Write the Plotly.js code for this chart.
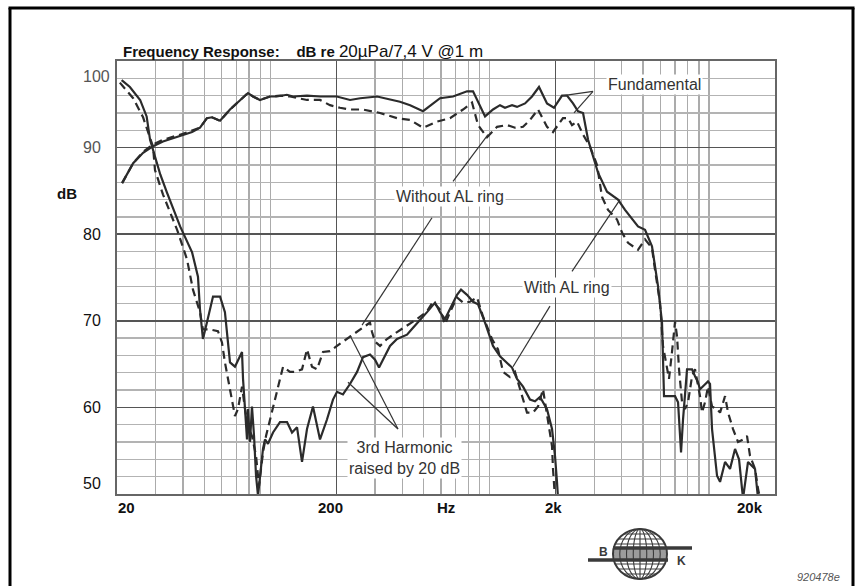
<!DOCTYPE html>
<html><head><meta charset="utf-8">
<script src="https://cdn.plot.ly/plotly-3.0.1.min.js"></script>
<style>html,body{margin:0;padding:0;background:#fff}#chart{width:855px;height:586px}</style>
</head><body><div id="chart"></div>
<script>
// ---------- data ----------
// Fundamental, with AL ring (solid)
const fundWithF = [21.1,23.7,26.3,28.9,32.4,40,44,47.8,51.4,54.2,59,65.5,72.8,79.1,83.4,89.7,99.7,107,119,127,147,169,201,231,257,307,390,434,497,594,681,789,840,953,1036,1115,1175,1265,1333,1450,1560,1679,1826,1965,2138,2253,2400,2530,2666,2810,3120,3429,3848,4142,4747,5110,5498,5857,6108,6238,7002,7227,7458,7616,7942,8371,8638,8914,9103,9394,9899,10110,10327,10884,11233,11838,12474,13148,13710,14150,14299,15066,15714,16217,16737];
const fundWithDB = [85.9,88.2,89.4,90.1,90.7,91.5,91.8,92.3,93.4,93.5,93.1,94.4,95.5,96.3,95.9,95.5,95.9,95.9,96.1,95.9,96.0,95.9,95.9,95.5,95.7,95.9,95.3,94.9,94.2,95.7,95.9,96.5,96.5,93.6,94.4,94.9,94.6,94.9,94.7,95.1,95.9,97.0,95.1,94.6,96.0,96.0,95.1,94.2,94.0,90.9,87.1,84.9,84.0,82.8,80.9,80.5,78.6,74.0,69.8,61.3,61.3,60.6,54.8,58.6,64.4,64.4,63.6,62.9,62.1,62.4,63.0,62.7,57.5,52.1,51.4,53.7,52.9,55.2,54.0,50.6,49.5,53.7,53.2,52.9,49.5];

// Fundamental, without AL ring (dashed)
const fundWithoutF = [21.1,23.7,26.3,28.9,32.4,40,47.8,51.4,54.2,59,65.5,72.8,79.1,83.4,89.7,99.7,110.7,123,147,168.5,187.1,207.8,230.8,264.7,316.4,378.2,433.7,497,575.4,659.8,756.2,831.2,885.2,972.8,1081,1200,1305,1420,1528,1662,1826,1945,2050,2160,2276,2374,2503,2666,2869,3088,3254,3465,3808,4013,4275,4747,5110,5498,5674,5981,6173,6437,6573,6784,7002,7151,7303,7536,7777,8026,8371,8638,9103,9297,9594,9899,10327,10884,11233,11838,12217,12874,13568,14299,14910,15386,16217,16737,17091];
const fundWithoutDB = [85.9,88.2,89.5,90.3,90.9,91.6,92.3,93.4,93.5,93.1,94.4,95.5,96.3,95.9,95.5,95.9,96.0,95.9,95.5,95.5,94.9,94.6,94.4,94.4,94.0,93.4,93.2,92.3,93.0,93.4,94.4,95.2,92.6,91.2,92.4,92.6,92.3,92.4,93.2,94.4,92.4,91.8,92.6,93.4,93.4,92.6,93.0,91.5,90.1,88.0,84.3,82.8,81.7,80.2,79.0,78.2,79.4,78.4,75.9,72.1,67.1,64.4,63.3,66.4,69.9,68.2,64.4,60.6,59.8,60.6,63.6,64.4,61.3,59.4,60.6,62.4,60.1,59.8,59.4,61.3,59.4,57.5,56.0,56.3,56.7,54.4,52.9,50.6,49.5];

// 3rd harmonic (+20 dB), with AL ring (solid)
const harmWithF = [21,22.9,25.5,27.3,28.3,28.9,30.3,31.5,33.8,38.8,44,46.8,47.8,49.3,51.4,54.8,59,62.1,65.5,69,74.3,75.1,78.3,79.1,80.8,82.5,84.3,86.1,87.9,89.7,92.6,94.6,97.6,102.9,110.7,119.2,125.6,132.4,139.5,147,156.5,168.5,181.3,193.1,201.4,214.4,230.8,248.6,264.7,284.8,300.2,313.1,326.6,351.4,378.2,420.1,447.5,471.6,518.4,563.6,593.9,626,659.8,710,740.5,788.6,840,885.2,952.6,1036,1115,1200,1265,1333,1420,1528,1610,1697,1826,1925,1986,2028,2050];
const harmWithDB = [97.8,97.0,95.5,93.6,90.9,90.1,88.6,86.9,84.8,80.9,77.9,75.1,71.3,67.9,69.8,72.8,72.8,71.0,65.2,64.7,66.4,63.3,56.3,59.8,56.0,60.1,56.7,52.1,49.8,51.7,55.2,56.3,55.8,57.1,58.3,58.3,57.1,57.7,53.7,57.5,60.1,56.3,58.6,60.9,61.8,61.5,62.7,64.1,65.8,66.1,65.5,64.6,65.5,67.1,67.9,68.4,69.2,69.8,71.0,72.1,71.0,70.2,71.3,73.0,73.6,73.0,72.2,71.9,69.8,67.1,65.9,65.2,64.6,63.3,62.4,60.9,60.7,61.2,59.8,57.5,54.4,51.4,49.5];

// 3rd harmonic (+20 dB), without AL ring (dashed)
const harmWithoutF = [20.6,23.7,26.3,27.7,29.2,29.8,32.4,37.6,41.7,44.4,47.8,49.3,53.1,57.7,60.2,62.1,64.1,66.9,69,71.2,74.3,76.7,79.1,82.5,86.1,88.8,92.6,95.6,99.7,107.3,114.3,123,129.6,139.5,147,154.9,163.3,173.9,187.1,201.4,223.6,238.3,264.7,284.8,290.9,300.2,316.4,340.4,378.2,420.1,466.7,518.4,551.8,593.9,626,659.8,710,756.2,813.9,875.9,932.9,1025,1092,1151,1238,1305,1405,1480,1576,1662,1751,1826,1925,1945,1986];
const harmWithoutDB = [97.5,95.7,93.5,91.7,90.1,87.4,84.6,80.5,77.1,73.6,71.0,69.0,69.0,68.8,67.5,65.2,63.3,60.9,59.0,59.8,62.4,59.8,57.8,56.7,54.4,50.9,54.8,56.7,58.6,61.8,64.7,64.1,64.1,64.4,66.7,64.7,64.4,66.4,66.5,67.1,67.9,68.4,69.2,69.8,68.7,67.6,67.1,67.9,68.7,69.4,70.2,71.1,72.2,71.3,69.6,71.0,72.7,72.1,72.2,72.7,70.5,67.9,66.7,64.1,63.5,64.1,61.3,59.4,59.4,60.1,62.1,59.4,55.5,52.9,49.5];

// axis ticks / labels
const yMajor = [50,60,70,80,90,100];
const yMinor = [52,54,56,58,62,64,66,68,72,74,76,78,82,84,86,88,92,94,96,98];
const xMajor = [20,200,2000,20000];
const xMinor = [30,40,50,60,70,80,90,100,300,400,500,600,700,800,900,1000,3000,4000,5000,6000,7000,8000,9000,10000];
const yTickLabels = ["50","60","70","80","90","100"];
const xTickLabels = ["20","200","2k","20k"];

// callout labels: [text, freq, dB]
const callouts = [
  ["Fundamental", 5616, 97.3],
  ["Without AL ring", 660, 84.3],
  ["With AL ring", 2253, 73.9],
  ["3rd Harmonic<br>raised by 20 dB", 411, 54.2]
];
// leader lines: [f0, dB0, f1, dB1]
const leaders = [
  [2960, 96.5, 2160, 96.0],
  [2960, 96.5, 2425, 94.0],
  [681, 86.1, 983, 91.5],
  [546, 81.9, 262, 69.5],
  [2374, 75.7, 3930, 84.0],
  [1884, 71.7, 1278, 64.7],
  [382, 57.5, 231, 68.3],
  [382, 57.5, 226, 62.9]
];

// ---------- layout helpers ----------
const PL = 117, PR = 775, PT = 61, PB = 494;
const X0 = 20, X1 = 20000, Y0 = 50, Y1 = 100;
const px = p => (p - PL) / (PR - PL);
const py = p => (PB - p) / (PB - PT);
const lg = Math.log10;
const fx = f => (lg(f) - lg(X0)) / (lg(X1) - lg(X0));   // frequency -> paper x
const dy = d => (d - Y0) / (Y1 - Y0);                     // dB -> paper y
const FONT = "'Liberation Sans Narrow', 'Liberation Sans', Arial, sans-serif";
const TFONT = "'Liberation Sans', Arial, sans-serif";
const INK = '#2b2b2b';

const traces = [
  {x: fundWithoutF, y: fundWithoutDB, mode: 'lines', line: {color: INK, width: 2.2, dash: '8px,5px'}, hoverinfo: 'skip'},
  {x: harmWithoutF, y: harmWithoutDB, mode: 'lines', line: {color: INK, width: 2.2, dash: '8px,5px'}, hoverinfo: 'skip'},
  {x: fundWithF, y: fundWithDB, mode: 'lines', line: {color: INK, width: 2.2}, hoverinfo: 'skip'},
  {x: harmWithF, y: harmWithDB, mode: 'lines', line: {color: INK, width: 2.2}, hoverinfo: 'skip'}
];

const annotations = [];
const shapes = [];

// y tick labels
yMajor.forEach((v, i) => {
  let ys = 0;
  if (v === 100) ys = -15;
  if (v === 50) ys = 11;
  annotations.push({xref: 'paper', yref: 'y', x: px(81), y: v, xanchor: 'left', yanchor: 'middle',
    yshift: ys, showarrow: false, text: yTickLabels[i],
    font: {family: FONT, size: 16, color: v >= 90 ? '#555' : '#111'}});
});
annotations.push({xref: 'paper', yref: 'paper', x: px(55), y: py(193), xanchor: 'left', yanchor: 'middle',
  showarrow: false, text: '<b>dB</b>', font: {family: FONT, size: 15, color: '#111'}});

// x tick labels
const xShift = [9, -6, -2, -25];
xMajor.forEach((v, i) => {
  annotations.push({xref: 'x', yref: 'paper', x: lg(v), y: 0, xanchor: 'center', yanchor: 'middle',
    xshift: xShift[i], yshift: -13, showarrow: false, text: '<b>' + xTickLabels[i] + '</b>',
    font: {family: FONT, size: 15, color: '#111'}});
});
annotations.push({xref: 'paper', yref: 'paper', x: px(446), y: 0, xanchor: 'center', yanchor: 'middle',
  yshift: -13, showarrow: false, text: '<b>Hz</b>', font: {family: FONT, size: 15, color: '#111'}});

// callouts
callouts.forEach(c => {
  annotations.push({xref: 'x', yref: 'y', x: lg(c[1]), y: c[2], showarrow: false, text: c[0],
    xanchor: 'center', yanchor: 'middle', bgcolor: '#fff', borderpad: 1,
    font: {family: TFONT, size: 16, color: '#333'}});
});
leaders.forEach(l => {
  shapes.push({type: 'line', xref: 'paper', yref: 'paper', x0: fx(l[0]), y0: dy(l[1]), x1: fx(l[2]), y1: dy(l[3]),
    line: {color: '#333', width: 1.2}, layer: 'above'});
});

// outer frame (open at the bottom)
const frameLine = {color: '#000', width: 3};
shapes.push({type: 'line', xref: 'paper', yref: 'paper', x0: px(10), y0: py(8), x1: px(10), y1: py(620), line: frameLine});
shapes.push({type: 'line', xref: 'paper', yref: 'paper', x0: px(853), y0: py(8), x1: px(853), y1: py(620), line: frameLine});
shapes.push({type: 'line', xref: 'paper', yref: 'paper', x0: px(8.5), y0: py(8), x1: px(854.5), y1: py(8), line: frameLine});

// B&K logo
const cx = 640, cy = 554, rx = 27, ry = 25;
const lgc = '#3a3a3a';
shapes.push({type: 'circle', xref: 'paper', yref: 'paper', x0: px(cx - rx), x1: px(cx + rx), y0: py(cy + ry), y1: py(cy - ry), line: {color: lgc, width: 2}});
[0.75, 0.5, 0.25].forEach(k => {
  shapes.push({type: 'circle', xref: 'paper', yref: 'paper', x0: px(cx - rx * k), x1: px(cx + rx * k), y0: py(cy + ry), y1: py(cy - ry), line: {color: lgc, width: 1.1}});
});
shapes.push({type: 'line', xref: 'paper', yref: 'paper', x0: px(cx), x1: px(cx), y0: py(cy + ry), y1: py(cy - ry), line: {color: lgc, width: 1.1}});
[-20, -15, -10, 10, 15, 20].forEach(d => {
  const h = rx * Math.sqrt(1 - (d / ry) * (d / ry));
  shapes.push({type: 'line', xref: 'paper', yref: 'paper', x0: px(cx - h), x1: px(cx + h), y0: py(cy + d), y1: py(cy + d), line: {color: lgc, width: 1.1}});
});
[-5, -3, -1, 1, 3, 5].forEach(d => {
  const h = rx * Math.sqrt(1 - (d / ry) * (d / ry)) - 1;
  shapes.push({type: 'line', xref: 'paper', yref: 'paper', x0: px(cx - h), x1: px(cx + h), y0: py(cy + d), y1: py(cy + d), line: {color: lgc, width: 1.1}});
});
shapes.push({type: 'line', xref: 'paper', yref: 'paper', x0: px(613), x1: px(692), y0: py(548), y1: py(548), line: {color: lgc, width: 3.5}});
shapes.push({type: 'line', xref: 'paper', yref: 'paper', x0: px(588), x1: px(668), y0: py(560), y1: py(560), line: {color: lgc, width: 3.5}});
annotations.push({xref: 'paper', yref: 'paper', x: px(603), y: py(552), showarrow: false, text: '<b>B</b>', xanchor: 'center', yanchor: 'middle', font: {family: TFONT, size: 12, color: lgc}});
annotations.push({xref: 'paper', yref: 'paper', x: px(681), y: py(561), showarrow: false, text: '<b>K</b>', xanchor: 'center', yanchor: 'middle', font: {family: TFONT, size: 12, color: lgc}});
annotations.push({xref: 'paper', yref: 'paper', x: px(818), y: py(577), showarrow: false, text: '<i>920478e</i>', xanchor: 'center', yanchor: 'middle', font: {family: TFONT, size: 11, color: '#555'}});

const NB = '\u00A0';
const layout = {
  width: 855, height: 586,
  margin: {l: PL, r: 855 - PR, t: PT, b: 586 - PB, pad: 0},
  paper_bgcolor: '#fff', plot_bgcolor: '#fff',
  showlegend: false,
  title: {
    text: '<b>Frequency Response:</b>' + NB.repeat(4) + '<b>dB re</b> <span style="font-size:17px">20µPa/7,4' + NB + 'V @1' + NB + 'm</span>',
    x: 123 / 855, xanchor: 'left', xref: 'container',
    y: 1 - 52 / 586, yanchor: 'middle', yref: 'container',
    font: {family: FONT, size: 15, color: '#111'}
  },
  xaxis: {
    type: 'log', range: [lg(X0), lg(X1)], tickvals: xMajor, showticklabels: false, ticks: '',
    showgrid: true, gridcolor: '#555', gridwidth: 1.6, zeroline: false,
    showline: true, linecolor: '#666', linewidth: 1.6, mirror: true,
    minor: {tickvals: xMinor, showgrid: true, gridcolor: '#ababab', gridwidth: 1.3, ticks: ''}
  },
  yaxis: {
    range: [Y0, Y1], tickvals: yMajor, showticklabels: false, ticks: '',
    showgrid: true, gridcolor: '#555', gridwidth: 1.6, zeroline: false,
    showline: true, linecolor: '#666', linewidth: 1.6, mirror: true,
    minor: {tickvals: yMinor, showgrid: true, gridcolor: '#b3b3b3', gridwidth: 1.3, ticks: ''}
  },
  annotations: annotations,
  shapes: shapes
};

Plotly.newPlot('chart', traces, layout, {staticPlot: true, displayModeBar: false});
</script>
</body></html>
